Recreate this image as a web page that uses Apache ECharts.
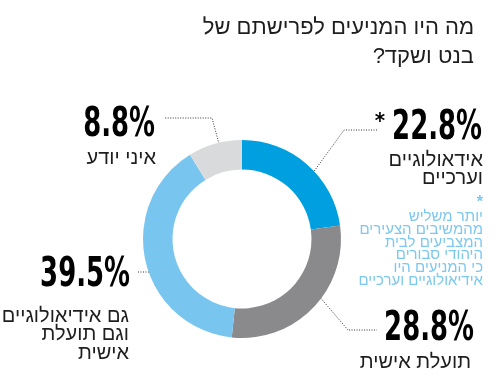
<!DOCTYPE html>
<html><head><meta charset="utf-8">
<script src="https://cdn.jsdelivr.net/npm/echarts@6/dist/echarts.min.js"></script>
<style>html,body{margin:0;padding:0;background:#fff}#c{width:504px;height:381px}</style>
</head><body><div id="c" dir="rtl"></div>
<script>
// ---- data ----
const categories = ['אידאולוגיים וערכיים', 'תועלת אישית', 'גם אידיאולוגיים וגם תועלת אישית', 'איני יודע'];
const values = [22.8, 28.8, 39.5, 8.8];
const labelLines = [['אידאולוגיים', 'וערכיים'], ['תועלת אישית'], ['גם אידיאולוגיים', 'וגם תועלת', 'אישית'], ['איני יודע']];
const titleLines = ['מה היו המניעים לפרישתם של', 'בנט ושקד?'];
const footnoteLines = ['*', 'יותר משליש', 'מהמשיבים הצעירים', 'המצביעים לבית', 'היהודי סבורים', 'כי המניעים היו', 'אידיאולוגיים וערכיים'];

// ---- styles / layout ----
const colors = ['#009fdf', '#8a8a8c', '#78c5ef', '#d9dadb'];
const numFont = '"DejaVu Sans Condensed", "DejaVu Sans", sans-serif';
const txtFont = '"Liberation Sans", Arimo, sans-serif';
const ann = [
  {numX: 482, numY: 129, descX: 483, descY: 160, pts: [[307,181],[344,130],[377,130]], star: true},
  {numX: 474, numY: 330, descX: 471, descY: 362, pts: [[313,289],[348,330],[377,330]]},
  {numX: 130, numY: 276, descX: 129, descY: 316, pts: [[171,297],[166,272],[138,272]]},
  {numX: 155, numY: 126, descX: 156, descY: 158, pts: [[221,151],[212,118],[165,118]]}
];

const chart = echarts.init(document.getElementById('c'), null, {renderer: 'canvas'});
const graphic = [];
titleLines.forEach((t, i) => graphic.push({type: 'text',
  style: {text: t, x: 474, y: 28 + i * 28.7, align: 'right', verticalAlign: 'middle', fill: '#1e1e1e', font: '22px ' + txtFont}}));
footnoteLines.forEach((t, i) => graphic.push({type: 'text',
  style: {text: t, x: 483, y: (i === 0 ? 203 : 217.3 + (i - 1) * 12.65), align: 'right', verticalAlign: 'middle', fill: '#7cc8ef', font: (i === 0 ? 'bold 16px ' : '15px ') + txtFont}}));
values.forEach((v, i) => {
  const a = ann[i];
  graphic.push({type: 'text', x: a.numX, y: a.numY, scaleX: 0.72,
    style: {text: v.toFixed(1) + '%', x: 0, y: 0, align: 'right', verticalAlign: 'middle', fill: '#000', font: 'bold 40px ' + numFont}});
  labelLines[i].forEach((t, j) => graphic.push({type: 'text', style: {text: t, x: a.descX, y: a.descY + j * 18.6, align: 'right', verticalAlign: 'middle', fill: '#1e1e1e', font: '20px ' + txtFont}}));
  graphic.push({type: 'polyline', shape: {points: a.pts}, style: {stroke: '#333', lineWidth: 1, lineDash: [1, 1.5], fill: null}});
  graphic.push({type: 'circle', shape: {cx: a.pts[0][0], cy: a.pts[0][1], r: 3}, style: {stroke: '#111', lineWidth: 1.5, fill: 'transparent'}});
  if (a.star) graphic.push({type: 'text', style: {text: '*', x: 380, y: 122, align: 'center', verticalAlign: 'middle', fill: '#000', font: 'bold 22px ' + numFont}});
});

chart.setOption({
  animation: false,
  color: colors,
  series: [{
    type: 'pie',
    center: [242, 239],
    radius: [69.5, 99],
    startAngle: 90,
    clockwise: true,
    label: {show: false},
    labelLine: {show: false},
    emphasis: {disabled: true},
    data: categories.map((c, i) => ({name: c, value: values[i]}))
  }],
  graphic: graphic
});
</script></body></html>
